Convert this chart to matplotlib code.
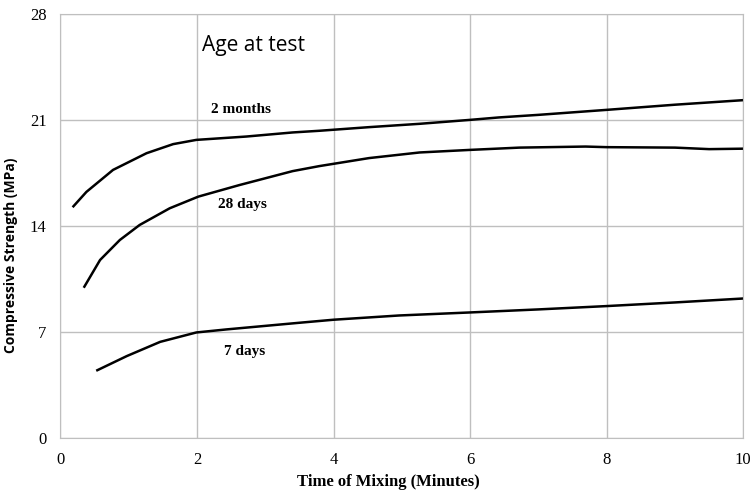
import matplotlib.pyplot as plt

# Tempo di miscelazione (min) e resistenza (MPa)
x_2m = [0.19, 0.38, 0.77, 1.26, 1.65, 1.99, 2.72, 3.4, 3.79, 4.52, 5.26, 6.0, 6.42, 7.0, 8.0, 9.0, 10.0]
y_2m = [15.3, 16.25, 17.7, 18.8, 19.4, 19.68, 19.9, 20.17, 20.28, 20.52, 20.74, 21.0, 21.16, 21.33, 21.66, 22.0, 22.3]

x_28d = [0.35, 0.58, 0.87, 1.16, 1.6, 2.02, 2.62, 3.4, 3.79, 4.52, 5.26, 6.0, 6.72, 7.69, 8.0, 9.0, 9.5, 10.0]
y_28d = [10.0, 11.76, 13.08, 14.07, 15.17, 15.94, 16.7, 17.62, 17.95, 18.48, 18.85, 19.02, 19.17, 19.24, 19.2, 19.17, 19.07, 19.1]

x_7d = [0.54, 0.97, 1.46, 1.99, 2.43, 3.5, 4.0, 4.96, 6.0, 7.0, 8.0, 9.0, 10.0]
y_7d = [4.49, 5.42, 6.36, 6.98, 7.18, 7.62, 7.82, 8.1, 8.3, 8.5, 8.72, 8.96, 9.22]

xticks = [0, 2, 4, 6, 8, 10]
yticks = [0, 7, 14, 21, 28]

fig = plt.figure(figsize=(7.53, 4.90), dpi=100)
ax = fig.add_axes([0.0803, 0.1055, 0.9068, 0.8665])

ax.plot(x_2m, y_2m, color='black', linewidth=1.8)
ax.plot(x_28d, y_28d, color='black', linewidth=1.8)
ax.plot(x_7d, y_7d, color='black', linewidth=1.8)

ax.set_xlim(0, 10)
ax.set_ylim(0, 28)
ax.set_xticks(xticks)
ax.set_yticks(yticks)
ax.grid(True, color='#bfbfbf', linewidth=1.0)
ax.set_axisbelow(True)
for s in ax.spines.values():
    s.set_color('#bfbfbf')
ax.tick_params(length=0, labelsize=12, pad=10)
for lab in ax.get_xticklabels() + ax.get_yticklabels():
    lab.set_family('Liberation Serif')

ax.set_xlabel('Time of Mixing (Minutes)', family='Liberation Serif', fontsize=12, fontweight='bold')
ax.xaxis.set_label_coords(0.48, -0.085)
ax.set_ylabel('Compressive Strength (MPa)', family='Open Sans', fontsize=10, fontweight='bold')
ax.yaxis.set_label_coords(-0.062, 0.43)

ax.text(2.08, 25.9, 'Age at test', family='Open Sans', fontsize=15, va='center')
ax.text(2.2, 21.68, '2 months', family='Liberation Serif', fontsize=11, fontweight='bold', va='center')
ax.text(2.3, 15.4, '28 days', family='Liberation Serif', fontsize=11, fontweight='bold', va='center')
ax.text(2.4, 5.7, '7 days', family='Liberation Serif', fontsize=11, fontweight='bold', va='center')

plt.savefig('out.png', dpi=100)
